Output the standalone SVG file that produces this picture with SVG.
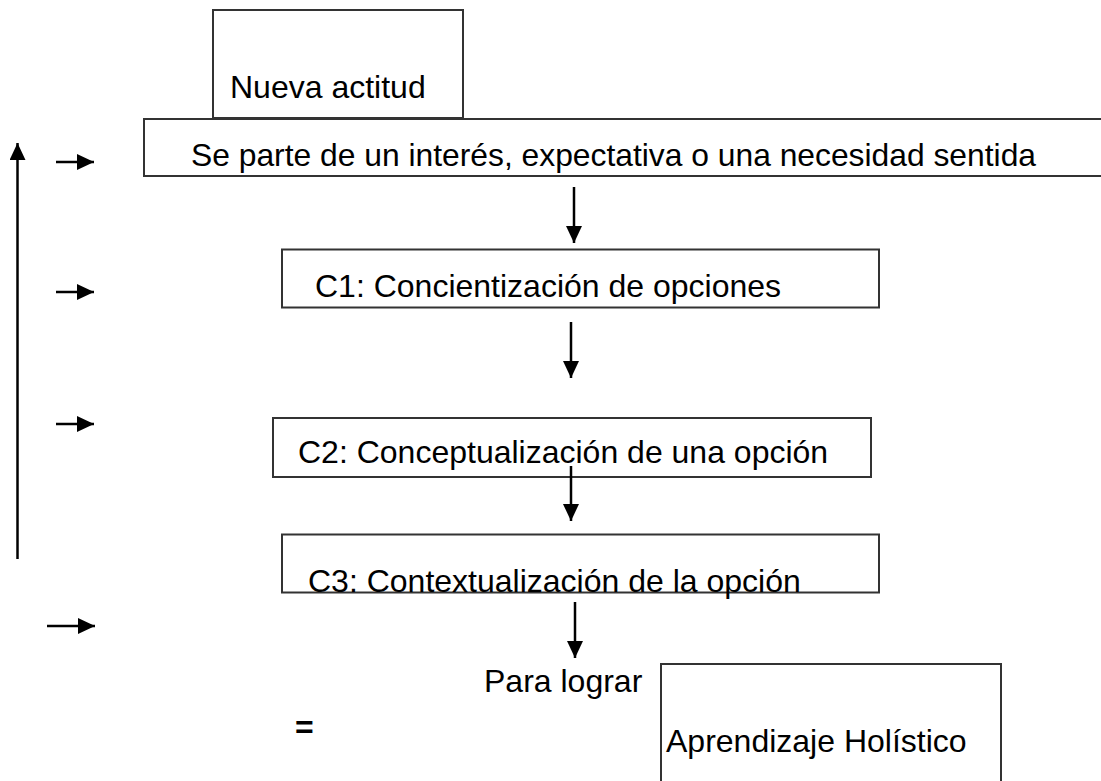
<svg xmlns="http://www.w3.org/2000/svg" width="1101" height="781" viewBox="0 0 1101 781">
<style>
.box{fill:#fff;stroke:#333;stroke-width:2}
.t{font-family:"Liberation Sans",Arial,sans-serif;font-size:32px;fill:#000}
.c{stroke:#000;stroke-width:2.5;fill:none;marker-end:url(#ah)}
</style>
<defs>
<marker id="ah" viewBox="0 0 17 16" refX="17" refY="8" markerWidth="17" markerHeight="16" markerUnits="userSpaceOnUse" orient="auto">
<path d="M0,0 L17,8 L0,16 Z" fill="#000"/>
</marker>
</defs>
<rect width="1101" height="781" fill="#fff"/>
<g id="nueva">
<rect class="box" x="213" y="10" width="250" height="108"/>
<text class="t" x="230" y="98">Nueva actitud</text>
</g>
<g id="interes">
<rect class="box" x="144" y="119" width="1000" height="57"/>
<text class="t" x="191" y="166" textLength="845" lengthAdjust="spacingAndGlyphs">Se parte de un interés, expectativa o una necesidad sentida</text>
</g>
<g id="c1">
<rect class="box" x="282" y="249.5" width="597" height="58"/>
<text class="t" x="315" y="297">C1: Concientización de opciones</text>
</g>
<g id="c2">
<rect class="box" x="273" y="418" width="598" height="59"/>
<text class="t" x="298" y="463">C2: Conceptualización de una opción</text>
</g>
<g id="c3">
<rect class="box" x="282" y="534.5" width="597" height="58"/>
<text class="t" x="308" y="592">C3: Contextualización de la opción</text>
</g>
<g id="para">
<text class="t" x="484" y="692">Para lograr</text>
</g>
<g id="igual">
<text class="t" x="295" y="738" font-weight="bold">=</text>
</g>
<g id="aprendizaje">
<rect class="box" x="661" y="664" width="340" height="200"/>
<text class="t" x="666" y="752">Aprendizaje Holístico</text>
</g>
<g id="connectors">
<line class="c" x1="17.5" y1="559" x2="17.5" y2="143"/>
<line class="c" x1="56" y1="162" x2="94" y2="162"/>
<line class="c" x1="56" y1="292" x2="94" y2="292"/>
<line class="c" x1="56" y1="424" x2="94" y2="424"/>
<line class="c" x1="47" y1="626" x2="95" y2="626"/>
<line class="c" x1="574" y1="187" x2="574" y2="243"/>
<line class="c" x1="571" y1="322" x2="571" y2="378"/>
<line class="c" x1="571" y1="466" x2="571" y2="521"/>
<line class="c" x1="575" y1="602" x2="575" y2="658"/>
</g>
</svg>
